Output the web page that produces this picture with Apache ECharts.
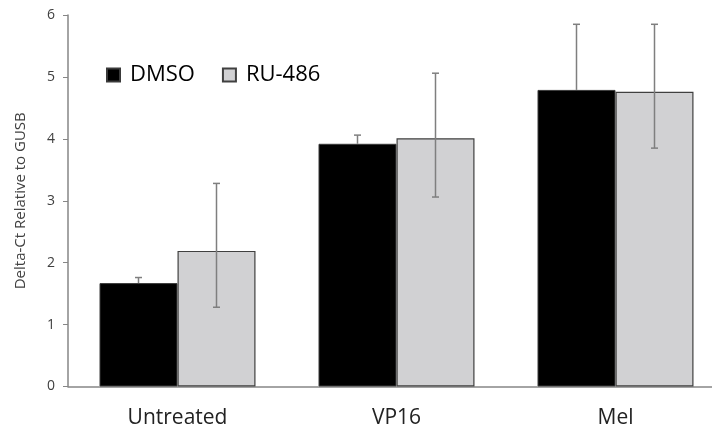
<!DOCTYPE html>
<html>
<head>
<meta charset="utf-8">
<script src="https://cdn.jsdelivr.net/npm/echarts@6/dist/echarts.min.js"></script>
<style>
html,body{margin:0;padding:0;background:#fff;overflow:hidden;width:712px;height:434px;}
#chart{width:725px;height:434px;}
</style>
</head>
<body>
<div id="chart"></div>
<script>
const categories = ['Untreated', 'VP16', 'Mel'];
const seriesNames = ['DMSO', 'RU-486'];
const dmsoValues = [1.67, 3.92, 4.79];
const dmsoErrHigh = [1.76, 4.06, 5.85];
const ruValues = [2.19, 4.01, 4.76];
const ruErrLow = [1.28, 3.06, 3.85];
const ruErrHigh = [3.28, 5.06, 5.85];
const yTicks = [0, 1, 2, 3, 4, 5, 6];

const FONT = '"Open Sans", "Noto Sans", sans-serif';
const BAR_W = 78;

function errSeries(low, high, side, showLow) {
  return {
    type: 'custom',
    z: 5,
    silent: true,
    data: categories.map((c, i) => [i, low[i], high[i]]),
    encode: { x: 0, y: [1, 2] },
    renderItem: function (params, api) {
      const i = api.value(0);
      const pLo = api.coord([i, api.value(1)]);
      const pHi = api.coord([i, api.value(2)]);
      const x = pLo[0] + side * BAR_W / 2;
      const cap = 3.5;
      const style = { stroke: '#7f7f7f', lineWidth: 1.5 };
      const children = [
        { type: 'line', shape: { x1: x, y1: pLo[1], x2: x, y2: pHi[1] }, style: style },
        { type: 'line', shape: { x1: x - cap, y1: pHi[1], x2: x + cap, y2: pHi[1] }, style: style }
      ];
      if (showLow) {
        children.push({ type: 'line', shape: { x1: x - cap, y1: pLo[1], x2: x + cap, y2: pLo[1] }, style: style });
      }
      return { type: 'group', children: children };
    }
  };
}

const chart = echarts.init(document.getElementById('chart'), null, { renderer: 'canvas' });
chart.setOption({
  animation: false,
  backgroundColor: '#ffffff',
  grid: { left: 68, top: 15, bottom: 47.5, right: 0, containLabel: false },
  legend: {
    left: 101,
    top: 59,
    itemWidth: 13,
    itemHeight: 13,
    itemGap: 27,
    icon: 'rect',
    data: seriesNames,
    textStyle: { fontFamily: FONT, fontSize: 22, color: '#000', padding: [0, 0, 0, 5] }
  },
  xAxis: {
    type: 'category',
    data: categories,
    axisLine: { lineStyle: { color: '#868686', width: 1.5 } },
    axisTick: { show: false },
    axisLabel: { fontFamily: FONT, fontSize: 21, color: '#222', margin: 21 }
  },
  yAxis: {
    type: 'value',
    min: 0,
    max: 6,
    interval: 1,
    name: 'Delta-Ct Relative to GUSB',
    nameLocation: 'middle',
    nameGap: 40,
    nameTextStyle: { fontFamily: FONT, fontSize: 15, color: '#404040' },
    axisLine: { show: true, lineStyle: { color: '#868686', width: 1.5 } },
    axisTick: { show: true, length: 5, lineStyle: { color: '#868686' } },
    axisLabel: {
      fontFamily: FONT, fontSize: 14, color: '#404040', margin: 13,
      formatter: v => yTicks.includes(v) ? String(v) : ''
    },
    splitLine: { show: false }
  },
  series: [
    {
      name: seriesNames[0],
      type: 'bar',
      data: dmsoValues,
      barWidth: BAR_W,
      barGap: '0%',
      itemStyle: { color: '#000000', borderColor: '#3a3a3a', borderWidth: 1 }
    },
    {
      name: seriesNames[1],
      type: 'bar',
      data: ruValues,
      barWidth: BAR_W,
      barGap: '0%',
      itemStyle: { color: '#d1d1d3', borderColor: '#404040', borderWidth: 1.2 }
    },
    errSeries(dmsoValues, dmsoErrHigh, -1, false),
    errSeries(ruErrLow, ruErrHigh, 1, true)
  ]
});
</script>
</body>
</html>
